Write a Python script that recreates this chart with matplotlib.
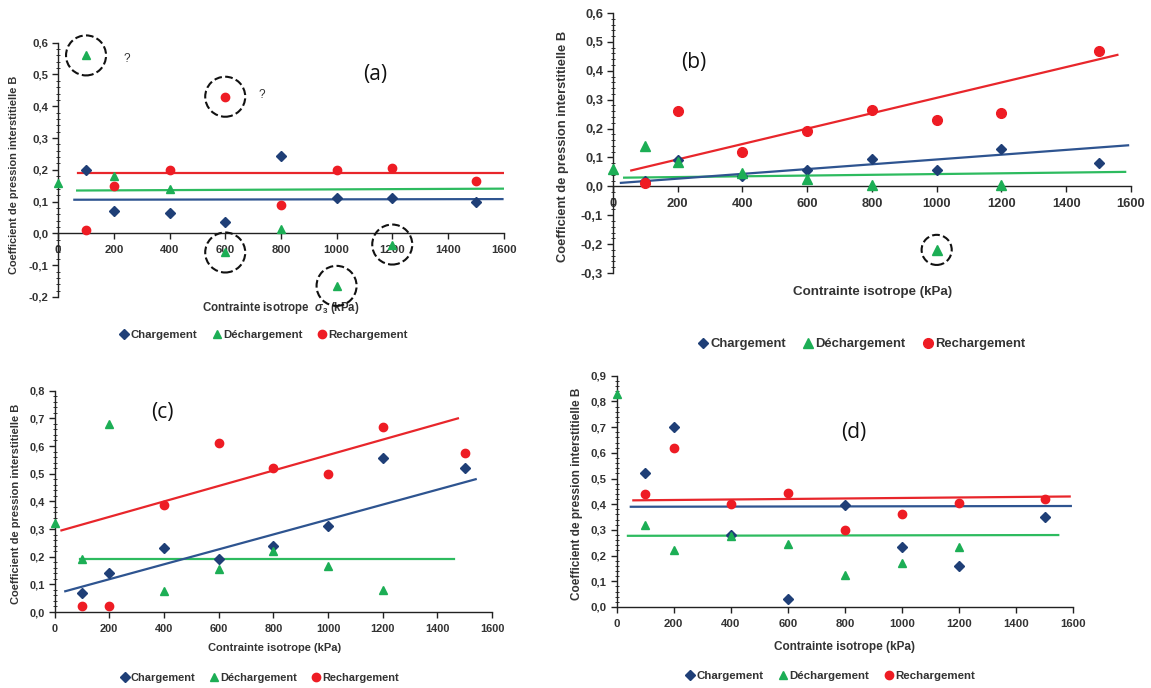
import matplotlib
matplotlib.use("Agg")
import matplotlib.pyplot as plt
from matplotlib.ticker import FuncFormatter, MultipleLocator, AutoMinorLocator
from matplotlib.lines import Line2D

plt.rcParams['font.family'] = ['Liberation Sans', 'DejaVu Sans']
plt.rcParams['mathtext.fontset'] = 'custom'
plt.rcParams['mathtext.it'] = 'Liberation Sans:italic:bold'
plt.rcParams['mathtext.rm'] = 'Liberation Sans:bold'

# ---------------- data ----------------
# (a)
a_x_charg = [100, 200, 400, 600, 800, 1000, 1200, 1500]
a_y_charg = [0.20, 0.07, 0.065, 0.035, 0.245, 0.11, 0.11, 0.10]
a_x_dech = [0, 100, 200, 400, 600, 800, 1000, 1200]
a_y_dech = [0.16, 0.56, 0.18, 0.14, -0.06, 0.015, -0.165, -0.035]
a_x_rech = [100, 200, 400, 600, 800, 1000, 1200, 1500]
a_y_rech = [0.01, 0.15, 0.20, 0.43, 0.09, 0.20, 0.205, 0.165]
a_trend_charg = ([58, 1596], [0.106, 0.108])
a_trend_dech = ([68, 1635], [0.135, 0.141])
a_trend_rech = ([72, 1615], [0.191, 0.191])
a_circled_dech = [1, 4, 6, 7]
a_circled_rech = [3]

# (b)
b_x_charg = [100, 200, 400, 600, 800, 1000, 1200, 1500]
b_y_charg = [0.02, 0.09, 0.035, 0.055, 0.095, 0.055, 0.13, 0.08]
b_x_dech = [0, 100, 200, 400, 600, 800, 1000, 1200]
b_y_dech = [0.06, 0.14, 0.085, 0.045, 0.025, 0.005, -0.22, 0.005]
b_x_rech = [100, 200, 400, 600, 800, 1000, 1200, 1500]
b_y_rech = [0.01, 0.26, 0.12, 0.19, 0.265, 0.23, 0.255, 0.47]
b_trend_charg = ([25, 1591], [0.012, 0.142])
b_trend_dech = ([35, 1582], [0.030, 0.050])
b_trend_rech = ([57, 1558], [0.055, 0.455])
b_circled_dech = [6]

# (c)
c_x_charg = [100, 200, 400, 600, 800, 1000, 1200, 1500]
c_y_charg = [0.07, 0.14, 0.23, 0.19, 0.24, 0.31, 0.555, 0.52]
c_x_dech = [0, 100, 200, 400, 600, 800, 1000, 1200]
c_y_dech = [0.32, 0.19, 0.68, 0.075, 0.155, 0.22, 0.165, 0.08]
c_x_rech = [100, 200, 400, 600, 800, 1000, 1200, 1500]
c_y_rech = [0.02, 0.02, 0.385, 0.61, 0.52, 0.50, 0.67, 0.575]
c_trend_charg = ([39, 1540], [0.075, 0.48])
c_trend_dech = ([94, 1462], [0.192, 0.192])
c_trend_rech = ([25, 1475], [0.295, 0.70])

# (d)
d_x_charg = [100, 200, 400, 600, 800, 1000, 1200, 1500]
d_y_charg = [0.52, 0.70, 0.28, 0.03, 0.395, 0.235, 0.16, 0.35]
d_x_dech = [0, 100, 200, 400, 600, 800, 1000, 1200]
d_y_dech = [0.83, 0.32, 0.22, 0.275, 0.245, 0.125, 0.17, 0.235]
d_x_rech = [100, 200, 400, 600, 800, 1000, 1200, 1500]
d_y_rech = [0.44, 0.62, 0.40, 0.445, 0.30, 0.36, 0.405, 0.42]
d_trend_charg = ([50, 1591], [0.390, 0.393])
d_trend_dech = ([40, 1547], [0.277, 0.280])
d_trend_rech = ([59, 1587], [0.415, 0.430])

series_names = ['Chargement', 'Déchargement', 'Rechargement']
ylabel_text = 'Coefficient de pression interstitielle B'

# ---------------- style ----------------
C_BLUE = '#1f3f77'
C_GREEN = '#1cae55'
C_RED = '#ee1c24'
L_BLUE = '#2e5490'
L_GREEN = '#2dbb5f'
L_RED = '#e8262b'
TXT = '#333333'

W, H = 1151, 688
fig = plt.figure(figsize=(W / 100, H / 100), dpi=100)
fig.patch.set_facecolor('white')


def px_axes(left, top, right, bottom):
    return fig.add_axes([left / W, 1 - bottom / H, (right - left) / W, (bottom - top) / H])


def comma_fmt(v, pos):
    s = f"{v:.1f}".replace('.', ',')
    if s == '-0,0':
        s = '0,0'
    return s


def int_fmt(v, pos):
    return f"{int(round(v))}"


def setup(ax, ylim, ystep, xzero_spine, fs_tick):
    ax.set_xlim(0, 1600)
    ax.set_ylim(*ylim)
    for s in ['top', 'right']:
        ax.spines[s].set_visible(False)
    if xzero_spine:
        ax.spines['bottom'].set_position(('data', 0))
    for s in ['left', 'bottom']:
        ax.spines[s].set_color('#222222')
        ax.spines[s].set_linewidth(1.0)
    ax.xaxis.set_major_locator(MultipleLocator(200))
    ax.yaxis.set_major_locator(MultipleLocator(ystep))
    ax.yaxis.set_minor_locator(AutoMinorLocator(5))
    ax.yaxis.set_major_formatter(FuncFormatter(comma_fmt))
    ax.xaxis.set_major_formatter(FuncFormatter(int_fmt))
    ax.tick_params(axis='both', which='major', labelsize=fs_tick, colors='#222222',
                   labelcolor=TXT, length=4, width=1.0)
    ax.tick_params(axis='x', which='major', pad=4.5)
    ax.tick_params(axis='y', which='major', pad=3)
    ax.tick_params(axis='y', which='minor', length=2.5, width=0.7, direction='inout', colors='#333333')
    for lab in ax.get_xticklabels() + ax.get_yticklabels():
        lab.set_fontweight('bold')
    ax.patch.set_alpha(0)


def draw(ax, xc, yc, xd, yd, xr, yr, tc, td, tr, ms):
    ax.plot(*tr, color=L_RED, lw=1.6, zorder=2)
    ax.plot(*td, color=L_GREEN, lw=1.6, zorder=2)
    ax.plot(*tc, color=L_BLUE, lw=1.6, zorder=2)
    ax.plot(xc, yc, linestyle='none', marker='D', ms=ms * 0.8, color=C_BLUE, zorder=3, clip_on=False)
    ax.plot(xd, yd, linestyle='none', marker='^', ms=ms, color=C_GREEN, zorder=3, clip_on=False)
    ax.plot(xr, yr, linestyle='none', marker='o', ms=ms, color=C_RED, zorder=3, clip_on=False)


def legend(ax, cx, cy, fs, ms):
    handles = [Line2D([], [], linestyle='none', marker='D', ms=ms * 0.8, color=C_BLUE),
               Line2D([], [], linestyle='none', marker='^', ms=ms, color=C_GREEN),
               Line2D([], [], linestyle='none', marker='o', ms=ms, color=C_RED)]
    leg = ax.legend(handles, series_names, loc='center', bbox_to_anchor=(cx / W, 1 - cy / H),
                    bbox_transform=fig.transFigure, ncol=3, frameon=False, handletextpad=0.05,
                    columnspacing=1.2, handlelength=1.0, prop={'size': fs, 'weight': 'bold'})
    for t in leg.get_texts():
        t.set_color(TXT)


def labels(ax, xlabel, xl_xy, yl_xy, fs_x, fs_y):
    ax.set_xlabel(xlabel, fontsize=fs_x, fontweight='bold', color=TXT)
    ax.xaxis.set_label_coords(*xl_xy)
    ax.set_ylabel(ylabel_text, fontsize=fs_y, fontweight='bold', color=TXT)
    ax.yaxis.set_label_coords(*yl_xy)


def panel_tag(ax, txt, x, y):
    ax.text(x, y, txt, fontsize=15, color='#111111', ha='center', va='center',
            family=['Open Sans', 'DejaVu Sans'])


# ---------------- (a) ----------------
axa = px_axes(58.2, 42.7, 503.6, 297)
setup(axa, (-0.2, 0.6), 0.1, True, 8.2)
draw(axa, a_x_charg, a_y_charg, a_x_dech, a_y_dech, a_x_rech, a_y_rech,
     a_trend_charg, a_trend_dech, a_trend_rech, 6)
axa.scatter([a_x_dech[i] for i in a_circled_dech] + [a_x_rech[i] for i in a_circled_rech],
            [a_y_dech[i] for i in a_circled_dech] + [a_y_rech[i] for i in a_circled_rech],
            s=830, facecolors='none', edgecolors='#111111', linewidths=1.5, linestyle='--',
            zorder=4, clip_on=False)
axa.text(246, 0.55, '?', fontsize=8.5, color=TXT, ha='center', va='center')
axa.text(731, 0.434, '?', fontsize=8.5, color=TXT, ha='center', va='center')
panel_tag(axa, '(a)', 1138, 0.50)
labels(axa, r'Contrainte isotrope  $\sigma_3$ (kPa)', (0.5, -0.012), (-0.087, 0.48), 8.3, 7.9)
legend(axa, 263, 335, 8.2, 6)

# ---------------- (b) ----------------
axb = px_axes(612.8, 13, 1131, 273)
setup(axb, (-0.3, 0.6), 0.1, True, 9.3)
draw(axb, b_x_charg, b_y_charg, b_x_dech, b_y_dech, b_x_rech, b_y_rech,
     b_trend_charg, b_trend_dech, b_trend_rech, 7)
axb.scatter([b_x_dech[i] for i in b_circled_dech], [b_y_dech[i] for i in b_circled_dech],
            s=470, facecolors='none', edgecolors='#111111', linewidths=1.5, linestyle='--',
            zorder=4, clip_on=False)
panel_tag(axb, '(b)', 249, 0.43)
labels(axb, 'Contrainte isotrope (kPa)', (0.502, -0.05), (-0.085, 0.485), 9.6, 9.3)
legend(axb, 861, 344, 9.4, 7)

# ---------------- (c) ----------------
axc = px_axes(54.6, 390.7, 492.1, 612)
setup(axc, (0, 0.8), 0.1, False, 7.9)
draw(axc, c_x_charg, c_y_charg, c_x_dech, c_y_dech, c_x_rech, c_y_rech,
     c_trend_charg, c_trend_dech, c_trend_rech, 6)
panel_tag(axc, '(c)', 394, 0.72)
labels(axc, 'Contrainte isotrope (kPa)', (0.502, -0.14), (-0.076, 0.49), 8.0, 8.0)
legend(axc, 259, 678, 7.9, 6)

# ---------------- (d) ----------------
axd = px_axes(616.5, 375.7, 1073.4, 607)
setup(axd, (0, 0.9), 0.1, False, 8.2)
draw(axd, d_x_charg, d_y_charg, d_x_dech, d_y_dech, d_x_rech, d_y_rech,
     d_trend_charg, d_trend_dech, d_trend_rech, 6)
panel_tag(axd, '(d)', 832, 0.68)
labels(axd, 'Contrainte isotrope (kPa)', (0.5, -0.145), (-0.073, 0.49), 8.5, 8.5)
legend(axd, 829.5, 676, 8.25, 6)

fig.savefig('out.png', dpi=100, facecolor='white')
